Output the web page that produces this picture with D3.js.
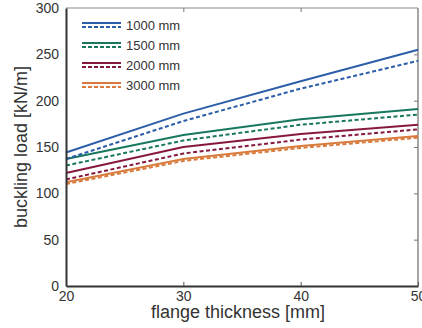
<!DOCTYPE html>
<html>
<head>
<meta charset="utf-8">
<script src="https://cdn.jsdelivr.net/npm/d3@7"></script>
<style>
  html, body { margin: 0; padding: 0; background: #fff; }
  svg { display: block; font-family: "Liberation Sans", Arial, sans-serif; }
</style>
</head>
<body>
<div id="chart"></div>
<script>
// flange thickness [mm] on x, buckling load [kN/m] on y
const thickness = [20, 30, 40, 50];
const spans = ["1000 mm", "1500 mm", "2000 mm", "3000 mm"];
const colors = ["#2c5ea9", "#18775f", "#86183f", "#d87a3c"];

const solid1000 = [144, 186, 221, 255];
const dashed1000 = [137, 178, 213, 243];
const solid1500 = [137, 163, 180, 191];
const dashed1500 = [130, 157, 174, 185];
const solid2000 = [122, 150, 164, 174];
const dashed2000 = [115, 143, 158, 169];
const solid3000 = [112, 137, 151, 162];
const dashed3000 = [110, 135, 149, 160];

const xTicks = [20, 30, 40, 50];
const yTicks = [0, 50, 100, 150, 200, 250, 300];

const series = [
  { span: spans[0], color: colors[0], solid: solid1000, dashed: dashed1000 },
  { span: spans[1], color: colors[1], solid: solid1500, dashed: dashed1500 },
  { span: spans[2], color: colors[2], solid: solid2000, dashed: dashed2000 },
  { span: spans[3], color: colors[3], solid: solid3000, dashed: dashed3000 },
];

const width = 422;
const height = 328;
const margin = { top: 8, right: 4, bottom: 42, left: 66 };
const innerWidth = width - margin.left - margin.right;
const innerHeight = height - margin.top - margin.bottom;

const svg = d3.select("#chart")
  .append("svg")
  .attr("width", width)
  .attr("height", height);

const g = svg.append("g")
  .attr("transform", `translate(${margin.left},${margin.top})`);

const x = d3.scaleLinear().domain([20, 50]).range([0, innerWidth]);
const y = d3.scaleLinear().domain([0, 300]).range([innerHeight, 0]);

// box: thin grey top/right with inward ticks
g.append("line")
  .attr("x1", 0).attr("x2", innerWidth).attr("y1", 0).attr("y2", 0)
  .attr("stroke", "#888").attr("stroke-width", 1);
g.append("line")
  .attr("x1", innerWidth).attr("x2", innerWidth).attr("y1", 0).attr("y2", innerHeight)
  .attr("stroke", "#888").attr("stroke-width", 1.5);

g.append("g")
  .call(d3.axisTop(x).tickValues(xTicks.slice(1, -1)).tickSize(-4))
  .call((a) => a.select(".domain").remove())
  .call((a) => a.selectAll("text").remove())
  .selectAll("line").attr("stroke", "#777");
g.append("g")
  .attr("transform", `translate(${innerWidth},0)`)
  .call(d3.axisRight(y).tickValues(yTicks.slice(1, -1)).tickSize(-4))
  .call((a) => a.select(".domain").remove())
  .call((a) => a.selectAll("text").remove())
  .selectAll("line").attr("stroke", "#777");

// lines
const line = d3.line()
  .x((d, i) => x(thickness[i]))
  .y((d) => y(d));

series.slice().reverse().forEach((s) => {
  g.append("path")
    .datum(s.dashed)
    .attr("d", line)
    .attr("fill", "none")
    .attr("stroke", s.color)
    .attr("stroke-width", 2)
    .attr("stroke-dasharray", "4,2.5");
  g.append("path")
    .datum(s.solid)
    .attr("d", line)
    .attr("fill", "none")
    .attr("stroke", s.color)
    .attr("stroke-width", 2);
});

// bottom axis
g.append("g")
  .attr("transform", `translate(0,${innerHeight})`)
  .call(d3.axisBottom(x).tickValues(xTicks).tickSize(-4).tickPadding(5).tickSizeOuter(0))
  .call((a) => a.select(".domain").attr("stroke", "#333").attr("stroke-width", 2))
  .call((a) => a.selectAll(".tick line").attr("stroke", "#555"))
  .selectAll("text")
  .attr("fill", "#333")
  .style("font-size", "14px");

// left axis
g.append("g")
  .call(d3.axisLeft(y).tickValues(yTicks).tickSize(0).tickPadding(7).tickSizeOuter(0))
  .call((a) => a.select(".domain").attr("stroke", "#333").attr("stroke-width", 2))
  .selectAll("text")
  .attr("fill", "#333")
  .style("font-size", "14px");

// axis titles
svg.append("text")
  .attr("x", 238)
  .attr("y", 318)
  .attr("text-anchor", "middle")
  .attr("fill", "#333")
  .style("font-size", "18px")
  .text("flange thickness [mm]");

svg.append("text")
  .attr("transform", `translate(27,${margin.top + innerHeight / 2}) rotate(-90)`)
  .attr("text-anchor", "middle")
  .attr("fill", "#333")
  .style("font-size", "18px")
  .text("buckling load [kN/m]");

// legend
const legend = svg.append("g").attr("transform", "translate(82,24)");
series.forEach((s, i) => {
  const row = legend.append("g").attr("transform", `translate(0,${i * 20})`);
  row.append("line")
    .attr("x1", 0).attr("x2", 39).attr("y1", -1).attr("y2", -1)
    .attr("stroke", s.color).attr("stroke-width", 2);
  row.append("line")
    .attr("x1", 0).attr("x2", 39).attr("y1", 3).attr("y2", 3)
    .attr("stroke", s.color).attr("stroke-width", 2)
    .attr("stroke-dasharray", "4,2");
  row.append("text")
    .attr("x", 44)
    .attr("y", 1)
    .attr("dy", "0.35em")
    .attr("fill", "#333")
    .style("font-size", "13px")
    .text(s.span);
});
</script>
</body>
</html>
